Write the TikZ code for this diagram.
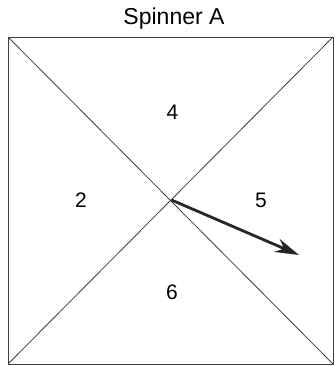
\documentclass[tikz,border=0pt]{standalone}
\usepackage{fontspec}
\setmainfont{Liberation Sans}
\usetikzlibrary{arrows.meta}
\begin{document}
\begin{tikzpicture}[x=1pt,y=1pt,
  edge/.style={draw=black!75, line width=0.8pt},
  lbl/.style={font=\fontsize{21}{24}\selectfont, inner sep=0pt},
  ttl/.style={font=\fontsize{23}{26}\selectfont, inner sep=0pt},
  pointer/.style={draw=black!85, line width=2.8pt, -{Stealth[length=24pt,width=14pt]}}]
\useasboundingbox (0,0) rectangle (334,366);
\coordinate (bl) at (8,2);
\coordinate (br) at (333,2);
\coordinate (tr) at (333,329);
\coordinate (tl) at (8,329);
\coordinate (c) at (171.5,166);
\coordinate (tip) at (299,111);
\draw[edge] (bl) -- (br) -- (tr) -- (tl) -- cycle;
\draw[edge] (bl) -- (tr);
\draw[edge] (tl) -- (br);
\node[ttl] (title) at (174,347) {Spinner A};
\node[lbl] (n4) at (172.5,254) {4};
\node[lbl] (n2) at (81,166) {2};
\node[lbl] (n5) at (261,166) {5};
\node[lbl] (n6) at (172,74) {6};
\draw[pointer] (c) -- (tip);
\end{tikzpicture}
\end{document}
